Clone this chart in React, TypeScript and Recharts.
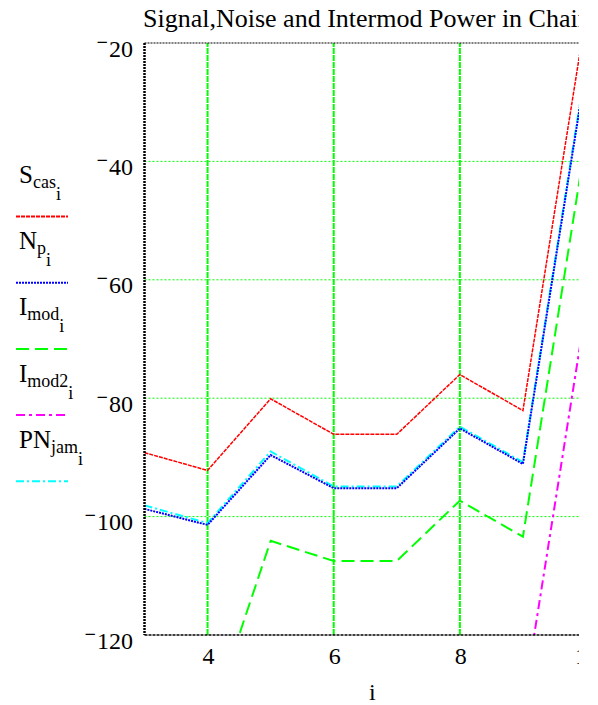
import React from 'react';
import { LineChart, Line, XAxis, YAxis, ReferenceLine, Legend } from 'recharts';

const xValues = [3, 4, 5, 6, 7, 8, 9, 10];
const sCas = [-89.2, -92.2, -80.1, -86.1, -86.1, -76.0, -82.1, -15.2];
const nP = [-98.7, -101.4, -89.6, -95.2, -95.2, -85.1, -91.1, -24.3];
const iMod = [-131.0, -135.9, -104.1, -107.5, -107.5, -97.3, -103.4, -36.3];
const iMod2 = [-150.0, -152.0, -140.0, -145.0, -145.0, -136.0, -132.0, -64.8];
const pnJam = [-98.1, -101.1, -89.0, -94.9, -94.9, -84.8, -90.8, -23.8];

const xTicks = [4, 6, 8, 10];
const yTicks = [-120, -100, -80, -60, -40, -20];
const vGrid = [4, 6, 8];
const hGrid = [-100, -80, -60, -40];
const title = 'Signal,Noise and Intermod Power in Chain';
const xLabel = 'i';

const FONT = '"Liberation Serif", "Times New Roman", serif';

const data = xValues.map((x, k) => ({
  x,
  sCas: sCas[k],
  nP: nP[k],
  iMod: iMod[k],
  iMod2: iMod2[k],
  pnJam: pnJam[k],
}));

const series = [
  { key: 'sCas', main: 'S', sub: 'cas', color: '#ff0000', dash: '4 1', width: 1.5 },
  { key: 'nP', main: 'N', sub: 'p', color: '#0000ff', dash: '2 1', width: 2 },
  { key: 'iMod', main: 'I', sub: 'mod', color: '#00ff00', dash: '13 6', width: 2 },
  { key: 'iMod2', main: 'I', sub: 'mod2', color: '#ff00ff', dash: '9 4 3 4', width: 2 },
  { key: 'pnJam', main: 'PN', sub: 'jam', color: '#00ffff', dash: '8 3 2 3', width: 2 },
];

const drawOrder = ['iMod2', 'iMod', 'sCas', 'pnJam', 'nP'];

const LegendContent = () => (
  <svg width={145} height={705} style={{ display: 'block' }}>
    {series.map((s, k) => {
      const base = 183 + 66.2 * k;
      return (
        <g key={s.key}>
          <text x={19} y={base} fontFamily={FONT} style={{ fontFamily: FONT }} fill="#000">
            <tspan fontSize={25}>{s.main}</tspan>
            <tspan fontSize={18} dy={5}>{s.sub}</tspan>
            <tspan fontSize={18} dy={12}>i</tspan>
          </text>
          <line x1={16} x2={68} y1={base + 33.5} y2={base + 33.5} stroke={s.color} strokeWidth={2} strokeDasharray={s.dash} />
        </g>
      );
    })}
  </svg>
);

const YTick = (props: any) => {
  const { y, payload } = props;
  const v = payload.value as number;
  return (
    <text x={133} y={y + 13.5} textAnchor="end" fontFamily={FONT} style={{ fontFamily: FONT }} fill="#000">
      <tspan fontSize={20} fontWeight="bold" dy={-8}>{v < 0 ? '\u2212' : ''}</tspan>
      <tspan fontSize={24} dy={8} dx={1}>{Math.abs(v)}</tspan>
    </text>
  );
};

const XTick = (props: any) => {
  const { x, y, payload } = props;
  return (
    <text x={x + 1} y={y + 21} textAnchor="middle" fontFamily={FONT} style={{ fontFamily: FONT }} fontSize={24} fill="#000">
      {payload.value}
    </text>
  );
};

const XLabel = (props: any) => {
  const vb = props.viewBox || {};
  const cx = (vb.x ?? 144) + (vb.width ?? 442) / 2 + 7;
  return (
    <text x={cx} y={700} textAnchor="middle" fontFamily={FONT} style={{ fontFamily: FONT }} fontSize={24} fill="#000">
      {xLabel}
    </text>
  );
};

export default function App() {
  return (
    <div style={{ position: 'absolute', left: 0, top: 0, width: 579, height: 705, overflow: 'hidden', background: '#fff' }}>
      <div
        style={{
          position: 'absolute',
          left: 143,
          top: 6,
          fontFamily: FONT,
          fontSize: 26,
          lineHeight: '26px',
          whiteSpace: 'nowrap',
          color: '#000',
        }}
      >
        {title}
      </div>
      <LineChart width={620} height={705} data={data} margin={{ top: 43, right: 34, left: 0, bottom: 0 }}>
        <XAxis
          dataKey="x"
          type="number"
          domain={[3, 10]}
          ticks={xTicks}
          allowDataOverflow
          height={70}
          tickLine={false}
          axisLine={{ stroke: '#000', strokeWidth: 1.5, strokeDasharray: '3 1' }}
          tick={<XTick />}
          label={<XLabel />}
        />
        <YAxis
          type="number"
          domain={[-120, -20]}
          ticks={yTicks}
          allowDataOverflow
          width={144.5}
          tickLine={false}
          axisLine={{ stroke: '#000', strokeWidth: 2.5, strokeDasharray: '2 1' }}
          tick={<YTick />}
        />
        {hGrid.map((h) => (
          <ReferenceLine key={'h' + h} y={h} stroke="#00ff00" strokeWidth={1} strokeDasharray="2 2" />
        ))}
        {vGrid.map((v) => (
          <ReferenceLine key={'v' + v} x={v} stroke="#00ff00" strokeWidth={2} strokeDasharray="6 1" />
        ))}
        <ReferenceLine y={-20} stroke="#000" strokeWidth={1} strokeDasharray="2 1" />
        <Legend
          layout="horizontal"
          verticalAlign="middle"
          align="center"
          content={<LegendContent />}
          wrapperStyle={{ left: 0, top: 0, width: 145, height: 705 }}
        />
        {drawOrder.map((key) => {
          const s = series.find((d) => d.key === key)!;
          return (
            <Line
              key={s.key}
              dataKey={s.key}
              type="linear"
              stroke={s.color}
              strokeWidth={s.width}
              strokeDasharray={s.dash}
              dot={false}
              activeDot={false}
              isAnimationActive={false}
            />
          );
        })}
      </LineChart>
    </div>
  );
}
